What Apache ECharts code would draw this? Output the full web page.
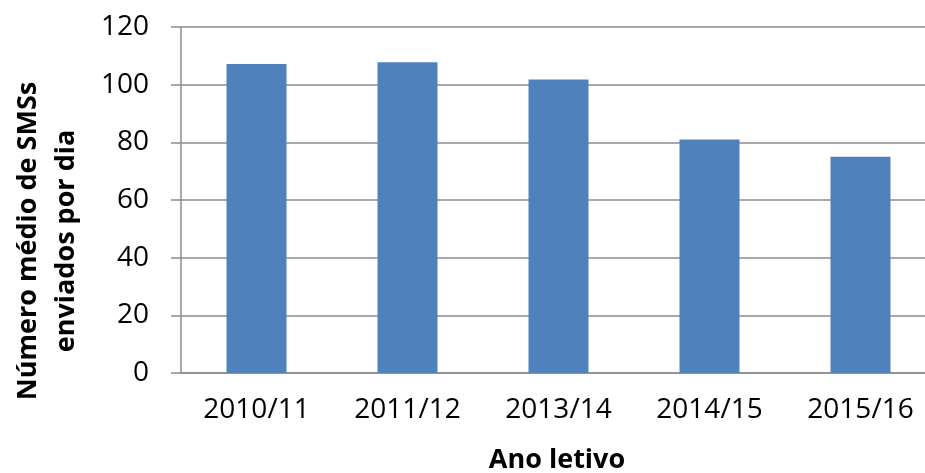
<!DOCTYPE html>
<html>
<head>
<meta charset="utf-8">
<script src="https://cdn.jsdelivr.net/npm/echarts@6/dist/echarts.min.js"></script>
<style>
  html, body { margin: 0; padding: 0; background: #fff; }
  #main { width: 925px; height: 473px; }
</style>
</head>
<body>
<div id="main"></div>
<script>
// dados do gráfico
const anos = ['2010/11', '2011/12', '2013/14', '2014/15', '2015/16'];
const mediaSms = [107.2, 107.8, 101.8, 81, 75];
const yTicks = [0, 20, 40, 60, 80, 100, 120];

const myChart = echarts.init(document.getElementById('main'));
const fonte = '"Open Sans", "Noto Sans", sans-serif';

const option = {
  animation: false,
  grid: { left: 181, top: 27, width: 755, height: 346, containLabel: false, outerBoundsMode: 'none' },
  xAxis: {
    type: 'category',
    data: anos,
    axisLine: { lineStyle: { color: '#8c8c8c', width: 1.5 } },
    axisTick: { show: false },
    axisLabel: { color: '#000', fontSize: 28, fontFamily: fonte, margin: 23 }
  },
  yAxis: {
    type: 'value',
    min: yTicks[0],
    max: yTicks[yTicks.length - 1],
    interval: 20,
    axisLine: { show: true, lineStyle: { color: '#8c8c8c', width: 1.5 } },
    axisTick: { show: true, length: 10, lineStyle: { color: '#8c8c8c', width: 1.5 } },
    axisLabel: { color: '#000', fontSize: 28, fontFamily: fonte, margin: 32 },
    splitLine: { lineStyle: { color: '#8c8c8c', width: 1.5 } }
  },
  series: [{
    type: 'bar',
    data: mediaSms,
    barWidth: 60,
    itemStyle: { color: '#4F81BD' }
  }],
  graphic: [
    {
      type: 'text',
      x: 47, y: 241,
      rotation: Math.PI / 2,
      style: {
        text: 'Número médio de SMSs\nenviados por dia',
        font: 'bold 27px ' + fonte,
        fill: '#000',
        align: 'center',
        verticalAlign: 'middle',
        lineHeight: 38
      }
    },
    {
      type: 'text',
      x: 557, y: 460,
      style: {
        text: 'Ano letivo',
        font: 'bold 27px ' + fonte,
        fill: '#000',
        align: 'center',
        verticalAlign: 'middle'
      }
    }
  ]
};
myChart.setOption(option);
</script>
</body>
</html>
